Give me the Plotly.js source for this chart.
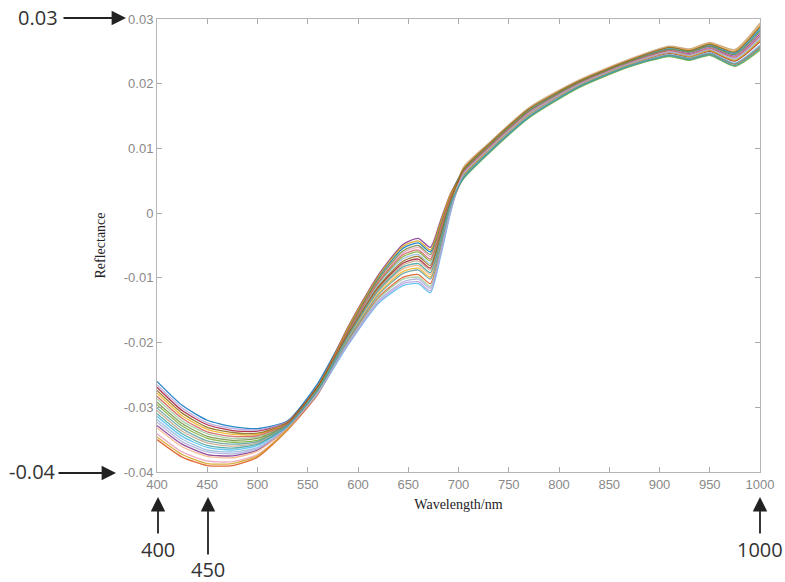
<!DOCTYPE html>
<html>
<head>
<meta charset="utf-8">
<script src="https://cdn.plot.ly/plotly-3.0.1.min.js"></script>
<style>
  html, body { margin: 0; padding: 0; background: #ffffff; }
  #chart { width: 785px; height: 582px; }
</style>
</head>
<body>
<div id="chart"></div>
<script>
// Wavelength sampling (nm) shared by every spectrum
const wavelength = [400, 425, 450, 475, 500, 530, 560, 590, 620, 645, 660, 672, 682, 692, 705, 730, 770, 820, 870, 910, 930, 950, 975, 1000];

// Reflectance spectra, one array per sample
const s01 = [-0.0260,-0.0297,-0.0320,-0.0330,-0.0333,-0.0321,-0.0263,-0.0179,-0.0100,-0.0054,-0.0046,-0.0060,-0.0018,0.0027,0.0067,0.0104,0.0159,0.0203,0.0235,0.0254,0.0250,0.0259,0.0247,0.0284];
const s02 = [-0.0350,-0.0377,-0.0390,-0.0390,-0.0377,-0.0335,-0.0280,-0.0198,-0.0131,-0.0099,-0.0095,-0.0109,-0.0057,0.0006,0.0055,0.0094,0.0149,0.0195,0.0227,0.0244,0.0238,0.0246,0.0230,0.0256];
const s03 = [-0.0278,-0.0313,-0.0334,-0.0342,-0.0342,-0.0324,-0.0270,-0.0194,-0.0125,-0.0090,-0.0085,-0.0099,-0.0048,0.0011,0.0070,0.0107,0.0162,0.0205,0.0237,0.0257,0.0253,0.0263,0.0252,0.0292];
const s04 = [-0.0328,-0.0357,-0.0373,-0.0375,-0.0366,-0.0332,-0.0270,-0.0176,-0.0096,-0.0048,-0.0039,-0.0053,-0.0012,0.0030,0.0064,0.0102,0.0157,0.0201,0.0233,0.0252,0.0247,0.0256,0.0243,0.0277];
const s05 = [-0.0296,-0.0329,-0.0348,-0.0354,-0.0351,-0.0327,-0.0269,-0.0184,-0.0109,-0.0067,-0.0060,-0.0074,-0.0029,0.0021,0.0053,0.0092,0.0147,0.0194,0.0226,0.0242,0.0236,0.0244,0.0227,0.0252];
const s06 = [-0.0314,-0.0345,-0.0362,-0.0366,-0.0359,-0.0329,-0.0278,-0.0204,-0.0140,-0.0112,-0.0109,-0.0123,-0.0068,0.0000,0.0067,0.0105,0.0160,0.0204,0.0236,0.0255,0.0250,0.0260,0.0248,0.0286];
const s07 = [-0.0269,-0.0305,-0.0327,-0.0336,-0.0337,-0.0322,-0.0268,-0.0189,-0.0116,-0.0077,-0.0071,-0.0085,-0.0037,0.0017,0.0058,0.0097,0.0152,0.0198,0.0230,0.0247,0.0241,0.0250,0.0235,0.0265];
const s08 = [-0.0341,-0.0369,-0.0383,-0.0384,-0.0373,-0.0334,-0.0273,-0.0182,-0.0105,-0.0061,-0.0053,-0.0067,-0.0023,0.0024,0.0062,0.0100,0.0155,0.0200,0.0232,0.0250,0.0245,0.0254,0.0240,0.0273];
const s09 = [-0.0287,-0.0321,-0.0341,-0.0348,-0.0346,-0.0325,-0.0274,-0.0200,-0.0133,-0.0102,-0.0099,-0.0113,-0.0060,0.0005,0.0060,0.0098,0.0153,0.0199,0.0231,0.0248,0.0243,0.0252,0.0237,0.0269];
const s10 = [-0.0305,-0.0337,-0.0355,-0.0360,-0.0355,-0.0328,-0.0272,-0.0190,-0.0118,-0.0080,-0.0074,-0.0088,-0.0040,0.0015,0.0071,0.0108,0.0163,0.0206,0.0238,0.0258,0.0254,0.0264,0.0253,0.0294];
const s11 = [-0.0319,-0.0349,-0.0366,-0.0369,-0.0362,-0.0330,-0.0272,-0.0186,-0.0111,-0.0070,-0.0064,-0.0078,-0.0032,0.0020,0.0057,0.0095,0.0150,0.0196,0.0228,0.0245,0.0240,0.0248,0.0232,0.0260];
const s12 = [-0.0265,-0.0301,-0.0324,-0.0333,-0.0335,-0.0322,-0.0272,-0.0203,-0.0138,-0.0109,-0.0106,-0.0120,-0.0065,0.0002,0.0065,0.0102,0.0157,0.0202,0.0234,0.0252,0.0248,0.0257,0.0244,0.0279];
const s13 = [-0.0332,-0.0361,-0.0376,-0.0378,-0.0368,-0.0332,-0.0276,-0.0193,-0.0122,-0.0086,-0.0081,-0.0095,-0.0046,0.0012,0.0069,0.0106,0.0161,0.0205,0.0237,0.0256,0.0252,0.0262,0.0250,0.0290];
const s14 = [-0.0292,-0.0325,-0.0345,-0.0351,-0.0348,-0.0326,-0.0267,-0.0180,-0.0103,-0.0058,-0.0050,-0.0064,-0.0020,0.0026,0.0066,0.0103,0.0158,0.0202,0.0234,0.0253,0.0249,0.0258,0.0245,0.0281];
const s15 = [-0.0346,-0.0373,-0.0387,-0.0387,-0.0375,-0.0334,-0.0272,-0.0177,-0.0098,-0.0051,-0.0043,-0.0057,-0.0015,0.0029,0.0059,0.0098,0.0153,0.0198,0.0230,0.0248,0.0242,0.0251,0.0236,0.0267];
const s16 = [-0.0301,-0.0333,-0.0352,-0.0357,-0.0353,-0.0327,-0.0274,-0.0196,-0.0127,-0.0093,-0.0088,-0.0102,-0.0051,0.0009,0.0056,0.0094,0.0149,0.0196,0.0228,0.0244,0.0239,0.0247,0.0231,0.0258];
const s17 = [-0.0283,-0.0317,-0.0338,-0.0345,-0.0344,-0.0325,-0.0267,-0.0183,-0.0107,-0.0064,-0.0057,-0.0071,-0.0026,0.0023,0.0063,0.0101,0.0155,0.0200,0.0232,0.0251,0.0245,0.0254,0.0241,0.0274];
const s18 = [-0.0323,-0.0353,-0.0369,-0.0372,-0.0364,-0.0331,-0.0278,-0.0201,-0.0136,-0.0106,-0.0102,-0.0116,-0.0062,0.0003,0.0061,0.0099,0.0154,0.0199,0.0231,0.0249,0.0244,0.0253,0.0239,0.0271];
const s19 = [-0.0274,-0.0309,-0.0331,-0.0339,-0.0340,-0.0323,-0.0268,-0.0187,-0.0114,-0.0074,-0.0067,-0.0081,-0.0034,0.0018,0.0068,0.0106,0.0161,0.0204,0.0236,0.0256,0.0251,0.0261,0.0249,0.0288];
const s20 = [-0.0310,-0.0341,-0.0359,-0.0363,-0.0357,-0.0329,-0.0273,-0.0191,-0.0120,-0.0083,-0.0078,-0.0092,-0.0043,0.0014,0.0054,0.0093,0.0148,0.0195,0.0227,0.0243,0.0237,0.0245,0.0228,0.0254];

const spectra = [s01, s02, s03, s04, s05, s06, s07, s08, s09, s10, s11, s12, s13, s14, s15, s16, s17, s18, s19, s20];

const lineColors = ['#0072BD', '#D95319', '#EDB120', '#7E2F8E', '#77AC30', '#4DBEEE', '#A2142F',
  '#E8A0BF', '#9BC99B', '#C4A484', '#8FB8DE', '#B39DDB', '#F4B183', '#6E8B3D',
  '#D4A017', '#5F9EA0', '#CD5C5C', '#A9A9D9', '#8B6914', '#40A0A0'];

// Axis ticks
const xTickVals = [400, 450, 500, 550, 600, 650, 700, 750, 800, 850, 900, 950, 1000];
const xTickText = ['400', '450', '500', '550', '600', '650', '700', '750', '800', '850', '900', '950', '1000'];
const yTickVals = [-0.04, -0.03, -0.02, -0.01, 0, 0.01, 0.02, 0.03];
const yTickText = ['-0.04', '-0.03', '-0.02', '-0.01', '0', '0.01', '0.02', '0.03'];

const traces = spectra.map((ys, i) => ({
  type: 'scatter',
  mode: 'lines',
  x: wavelength,
  y: ys,
  line: { color: lineColors[i % lineColors.length], width: 1.3, shape: 'spline', smoothing: 0.6 },
  opacity: 0.85,
  hoverinfo: 'skip'
}));

// plot area in pixels: left 157, right 760, top 19, bottom 472
const L = 157, R = 760, T = 19, B = 472;
const px = x => (x - L) / (R - L);
const py = y => (B - y) / (B - T);

const calloutFont = { family: 'Open Sans, Noto Sans, sans-serif', size: 20, color: '#333' };
const arrowStyle = { showarrow: true, arrowhead: 2, arrowsize: 1.6, arrowwidth: 1.8, arrowcolor: '#222', text: '', xref: 'paper', yref: 'paper', axref: 'pixel', ayref: 'pixel' };
const label = (text, x, y) => ({ text: text, x: px(x), y: py(y), xref: 'paper', yref: 'paper', xanchor: 'center', yanchor: 'middle', showarrow: false, font: calloutFont });

const annotations = [
  Object.assign({}, arrowStyle, { x: px(126), y: py(18), ax: -64, ay: 0 }),
  label('0.03', 38, 18),
  Object.assign({}, arrowStyle, { x: px(116), y: py(473), ax: -59, ay: 0 }),
  label('-0.04', 32, 471),
  Object.assign({}, arrowStyle, { x: px(158), y: py(497), ax: 0, ay: 38 }),
  label('400', 158, 549),
  Object.assign({}, arrowStyle, { x: px(208), y: py(497), ax: 0, ay: 59 }),
  label('450', 208, 569),
  Object.assign({}, arrowStyle, { x: px(760), y: py(497), ax: 0, ay: 38 }),
  label('1000', 760, 549)
];

const tickFont = { family: 'Liberation Sans, Arial, sans-serif', size: 13, color: '#8a8a8a' };
const titleFont = { family: 'Liberation Serif, Times New Roman, serif', size: 14, color: '#222' };

const layout = {
  width: 785,
  height: 582,
  margin: { l: L, r: 785 - R, t: T, b: 582 - B },
  paper_bgcolor: '#ffffff',
  plot_bgcolor: '#ffffff',
  showlegend: false,
  xaxis: {
    range: [400, 1000],
    tickvals: xTickVals,
    ticktext: xTickText,
    ticks: 'inside',
    ticklen: 5,
    tickcolor: '#aaaaaa',
    showline: true,
    linecolor: '#b5b5b5',
    linewidth: 1,
    mirror: 'ticks',
    showgrid: false,
    zeroline: false,
    tickfont: tickFont,
    title: { text: 'Wavelength/nm', font: titleFont, standoff: 8 },
    automargin: false
  },
  yaxis: {
    range: [-0.04, 0.03],
    tickvals: yTickVals,
    ticktext: yTickText,
    ticks: 'inside',
    ticklen: 5,
    tickcolor: '#aaaaaa',
    showline: true,
    linecolor: '#b5b5b5',
    linewidth: 1,
    mirror: 'ticks',
    showgrid: false,
    zeroline: false,
    tickfont: tickFont,
    title: { text: 'Reflectance', font: titleFont, standoff: 14 },
    automargin: false
  },
  annotations: annotations
};

Plotly.newPlot('chart', traces, layout, { displayModeBar: false, staticPlot: true });
</script>
</body>
</html>
